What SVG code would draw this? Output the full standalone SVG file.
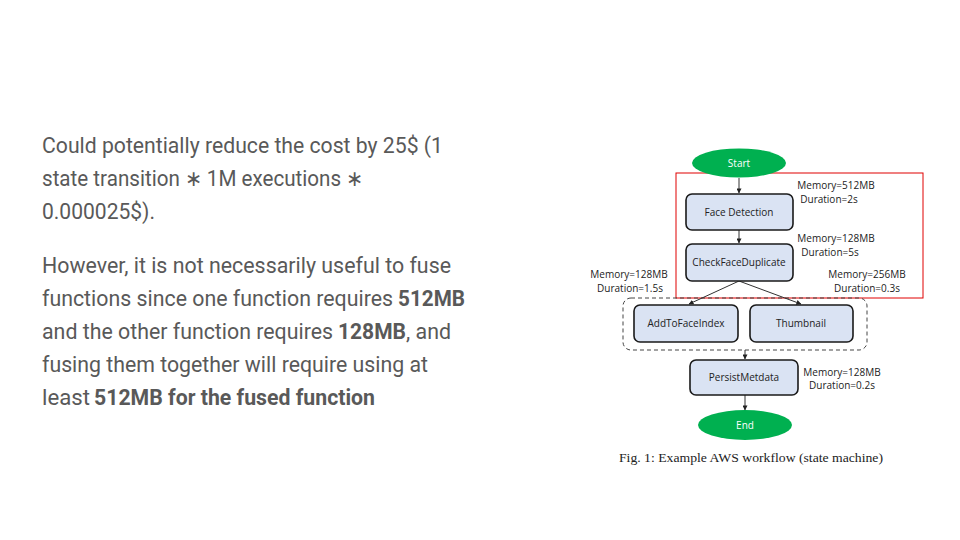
<svg xmlns="http://www.w3.org/2000/svg" width="960" height="540" viewBox="0 0 960 540">
<defs>
<style>
.body{font-family:Roboto,"Liberation Sans",sans-serif;font-size:22px;fill:#595959}
.b{font-weight:bold}
.box{fill:#dae3f3;stroke:#1a1a1a;stroke-width:1.6}
.bt{font-family:"Open Sans","Liberation Sans",sans-serif;font-size:10px;fill:#222;text-anchor:middle}
.lbl{font-family:"Open Sans","Liberation Sans",sans-serif;font-size:10px;fill:#222;text-anchor:middle}
.term{fill:#00b050}
.tt{font-family:"Open Sans","Liberation Sans",sans-serif;font-size:10px;fill:#fff;text-anchor:middle}
.ln{stroke:#333;stroke-width:1;fill:none}
</style>
<marker id="ah" viewBox="0 0 6 6" refX="5.5" refY="3" markerWidth="5" markerHeight="5" orient="auto">
<path d="M0,0 L6,3 L0,6 z" fill="#222"/>
</marker>
</defs>
<rect width="960" height="540" fill="#fff"/>

<g id="text">
<text class="body" x="42" y="153" textLength="401" lengthAdjust="spacingAndGlyphs">Could potentially reduce the cost by 25$ (1</text>
<text class="body" x="42" y="186" textLength="321" lengthAdjust="spacingAndGlyphs">state transition ∗ 1M executions ∗</text>
<text class="body" x="42" y="219" textLength="113" lengthAdjust="spacingAndGlyphs">0.000025$).</text>
<text class="body" x="42" y="273" textLength="409" lengthAdjust="spacingAndGlyphs">However, it is not necessarily useful to fuse</text>
<text class="body" x="42" y="306" textLength="351" lengthAdjust="spacingAndGlyphs">functions since one function requires</text>
<text class="body b" x="398" y="306" textLength="67" lengthAdjust="spacingAndGlyphs">512MB</text>
<text class="body" x="42" y="339" textLength="291" lengthAdjust="spacingAndGlyphs">and the other function requires</text>
<text class="body b" x="338" y="339" textLength="68" lengthAdjust="spacingAndGlyphs">128MB</text>
<text class="body" x="406" y="339" textLength="45" lengthAdjust="spacingAndGlyphs">, and</text>
<text class="body" x="42" y="372" textLength="386" lengthAdjust="spacingAndGlyphs">fusing them together will require using at</text>
<text class="body" x="42" y="405" textLength="48" lengthAdjust="spacingAndGlyphs">least</text>
<text class="body b" x="94" y="405" textLength="281" lengthAdjust="spacingAndGlyphs">512MB for the fused function</text>
</g>

<g id="regions">
<rect x="676" y="173" width="247" height="125" fill="none" stroke="#e00000" stroke-width="1"/>
<rect x="623" y="298" width="244" height="52" rx="8" fill="none" stroke="#444" stroke-width="1" stroke-dasharray="4,3"/>
</g>

<g id="connectors">
<line class="ln" x1="739" y1="178" x2="739" y2="193" marker-end="url(#ah)"/>
<line class="ln" x1="739" y1="230" x2="739" y2="243" marker-end="url(#ah)"/>
<line class="ln" x1="739" y1="281" x2="689" y2="304" marker-end="url(#ah)"/>
<line class="ln" x1="739" y1="281" x2="801" y2="304" marker-end="url(#ah)"/>
<line class="ln" x1="745" y1="350" x2="745" y2="359" marker-end="url(#ah)"/>
<line class="ln" x1="745" y1="395" x2="745" y2="410" marker-end="url(#ah)"/>
</g>

<g id="start">
<ellipse class="term" cx="739" cy="163" rx="47" ry="14.5"/>
<text class="tt" x="739" y="167">Start</text>
</g>
<g id="face-detection">
<rect class="box" x="686" y="194" width="107" height="36" rx="6"/>
<text class="bt" x="739" y="216">Face Detection</text>
</g>
<g id="check-face-duplicate">
<rect class="box" x="686" y="244" width="107" height="37" rx="6"/>
<text class="bt" x="739" y="266">CheckFaceDuplicate</text>
</g>
<g id="add-to-face-index">
<rect class="box" x="634" y="305" width="104" height="37" rx="6"/>
<text class="bt" x="686" y="327">AddToFaceIndex</text>
</g>
<g id="thumbnail">
<rect class="box" x="750" y="305" width="103" height="37" rx="6"/>
<text class="bt" x="801" y="327">Thumbnail</text>
</g>
<g id="persist-metdata">
<rect class="box" x="690" y="360" width="108" height="35" rx="6"/>
<text class="bt" x="744" y="381">PersistMetdata</text>
</g>
<g id="end">
<ellipse class="term" cx="745" cy="425" rx="47" ry="15"/>
<text class="tt" x="745" y="429">End</text>
</g>

<g id="labels">
<text class="lbl" x="836" y="189">Memory=512MB</text>
<text class="lbl" x="829" y="203">Duration=2s</text>
<text class="lbl" x="836" y="242">Memory=128MB</text>
<text class="lbl" x="830" y="256">Duration=5s</text>
<text class="lbl" x="867" y="278">Memory=256MB</text>
<text class="lbl" x="867" y="292">Duration=0.3s</text>
<text class="lbl" x="629" y="278">Memory=128MB</text>
<text class="lbl" x="630" y="292">Duration=1.5s</text>
<text class="lbl" x="842" y="376">Memory=128MB</text>
<text class="lbl" x="842" y="389">Duration=0.2s</text>
</g>

<text id="caption" x="751" y="462" font-family="'Liberation Serif',serif" font-size="13" fill="#222" text-anchor="middle" textLength="264" lengthAdjust="spacingAndGlyphs">Fig. 1: Example AWS workflow (state machine)</text>
</svg>
